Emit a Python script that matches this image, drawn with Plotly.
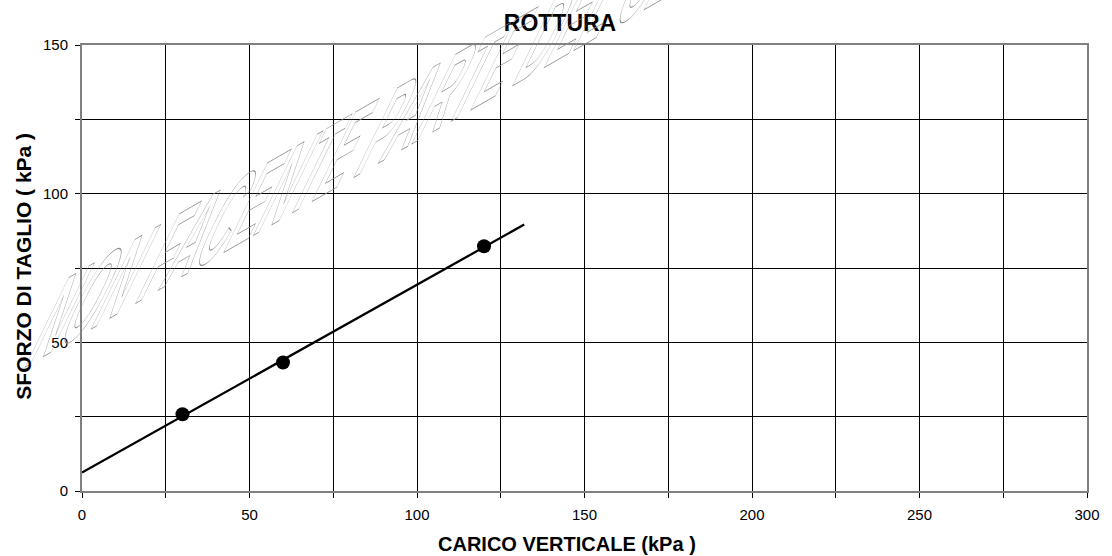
import math
import plotly.graph_objects as go

# Prove di taglio: punti sperimentali a rottura
carico = [30, 60, 120]          # carico verticale (kPa)
sforzo = [25.8, 43.2, 82.3]     # sforzo di taglio (kPa)

# Retta di inviluppo a rottura (estremi)
retta_x = [0, 132]
retta_y = [6.2, 89.6]

titolo = "ROTTURA"
titolo_x = "CARICO VERTICALE (kPa )"
titolo_y = "SFORZO DI TAGLIO ( kPa )"
filigrana = "NON FACENTE PARTE DEL CERTIFICATO"

FONT = "Liberation Sans, Arial, sans-serif"

fig = go.Figure()
fig.add_trace(go.Scatter(x=retta_x, y=retta_y, mode="lines",
                         line=dict(color="black", width=2.3),
                         showlegend=False, hoverinfo="skip"))
fig.add_trace(go.Scatter(x=carico, y=sforzo, mode="markers",
                         marker=dict(size=14, color="black"),
                         showlegend=False))

axis_common = dict(
    showline=True, linecolor="#808080", linewidth=2, mirror=True,
    showgrid=True, gridcolor="black", gridwidth=1, zeroline=False,
    ticks="outside", ticklen=5, tickcolor="black", tickwidth=1,
    tickfont=dict(family=FONT, size=15, color="black"),
    minor=dict(dtick=25, ticks="outside", ticklen=5, tickcolor="black",
               showgrid=True, gridcolor="black", gridwidth=1),
)

fig.update_xaxes(range=[0, 300], dtick=50, tick0=0, ticklabelstandoff=4, **axis_common)
fig.update_yaxes(range=[0, 150], dtick=50, tick0=0, ticklabelstandoff=4, **axis_common)

fig.update_layout(
    width=1112, height=556,
    margin=dict(l=82, r=13, t=45, b=65),
    paper_bgcolor="white", plot_bgcolor="white",
    title=dict(text="<b>%s</b>" % titolo, x=560 / 1112, xref="container",
               xanchor="center", y=1 - 23 / 556, yanchor="middle",
               font=dict(family=FONT, size=23, color="black")),
    annotations=[
        # filigrana (deformata e contornata dallo script finale)
        dict(text=filigrana, x=0.2, y=0.5, xref="paper", yref="paper",
             showarrow=False, font=dict(family=FONT, size=50, color="#8c8c8c")),
        dict(text="<b>%s</b>" % titolo_x, x=(573 - 82) / 1017, y=(491 - 544) / 446,
             xref="paper", yref="paper", showarrow=False, xanchor="center",
             yanchor="middle", font=dict(family=FONT, size=20, color="black")),
        dict(text="<b>%s</b>" % titolo_y, x=(22 - 82) / 1017, y=(491 - 266) / 446,
             xref="paper", yref="paper", showarrow=False, textangle=-90,
             xanchor="center", yanchor="middle",
             font=dict(family=FONT, size=21, color="black")),
    ],
)

# Geometria della filigrana: base a 30 gradi, aste delle lettere inclinate
F = 50.0
em_base = 51.0      # px per em lungo la linea di base
em_alto = 145.0     # px per em lungo le aste verticali
ang_base = math.radians(30)
ang_asta = math.radians(64)
a = em_base / F * math.cos(ang_base)
b = -em_base / F * math.sin(ang_base)
c = -em_alto / F * math.cos(ang_asta)
d = em_alto / F * math.sin(ang_asta)
e, f = 22.0, 369.0

post = """
var gd = document.getElementById('{plot_id}');
function filigrana() {
  var ann = gd.querySelector('g.annotation[data-index="0"]');
  if (!ann) return;
  var t = ann.querySelector('text.annotation-text');
  if (!t || t.getAttribute('data-wm') === '1') return;
  ann.querySelectorAll('g').forEach(function (g) { g.removeAttribute('transform'); });
  t.setAttribute('x', 0); t.setAttribute('y', 0);
  t.removeAttribute('dy');
  t.querySelectorAll('tspan').forEach(function (s) {
    s.setAttribute('x', 0); s.removeAttribute('dy'); s.setAttribute('y', 0);
  });
  t.setAttribute('text-anchor', 'start');
  t.setAttribute('transform', 'matrix(%f,%f,%f,%f,%f,%f)');
  t.style.fontWeight = 'bold';
  t.style.fill = 'none';
  t.style.stroke = '#8c8c8c';
  t.style.strokeWidth = '0.9px';
  t.style.vectorEffect = 'non-scaling-stroke';
  t.setAttribute('data-wm', '1');
}
filigrana();
gd.on('plotly_afterplot', filigrana);
""" % (a, b, c, d, e, f)

fig.write_html("out.html", post_script=post)
